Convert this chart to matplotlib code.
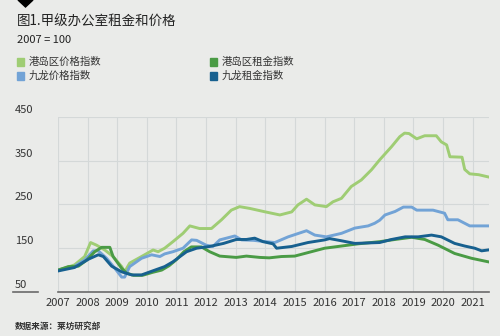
import matplotlib.pyplot as plt
import matplotlib.transforms as mtransforms
from matplotlib.patches import Rectangle, Polygon

plt.rcParams['font.family'] = ['Noto Sans CJK SC', 'DejaVu Sans']

# 港岛区价格指数
hk_price_t = [2007.0, 2007.3, 2007.56, 2007.9, 2008.1, 2008.3, 2008.58, 2008.86, 2009.15, 2009.25,
              2009.42, 2009.82, 2010.21, 2010.38, 2010.6, 2010.88, 2011.22, 2011.45, 2011.78, 2012.18,
              2012.52, 2012.85, 2013.13, 2013.47, 2014.0, 2014.49, 2014.89, 2015.1, 2015.39, 2015.67,
              2016.06, 2016.28, 2016.57, 2016.9, 2017.24, 2017.58, 2017.86, 2018.26, 2018.54, 2018.7,
              2018.85, 2019.11, 2019.38, 2019.77, 2019.94, 2020.12, 2020.23, 2020.64, 2020.73, 2020.9,
              2021.2, 2021.52]
hk_price = [100, 106, 112, 131, 163, 157, 146, 131, 108, 96,
            116, 131, 146, 142, 150, 165, 184, 201, 195, 195,
            215, 237, 245, 241, 233, 226, 233, 249, 262, 249,
            245, 256, 264, 291, 306, 329, 352, 382, 405, 413,
            412, 400, 407, 407, 393, 386, 359, 358, 330, 320,
            318, 313]

# 港岛区租金指数
hk_rent_t = [2007.0, 2007.35, 2007.69, 2007.97, 2008.24, 2008.47, 2008.75, 2008.86, 2009.15, 2009.32,
             2009.55, 2009.85, 2010.2, 2010.5, 2010.75, 2011.0, 2011.25, 2011.5, 2011.84, 2012.12,
             2012.46, 2013.02, 2013.36, 2013.81, 2014.13, 2014.54, 2014.99, 2015.44, 2016.0, 2016.57,
             2017.13, 2017.86, 2018.38, 2018.94, 2019.38, 2019.83, 2020.39, 2020.96, 2021.52]
hk_rent = [100, 108, 109, 123, 142, 152, 152, 131, 104, 93,
           88, 88, 95, 100, 110, 124, 142, 153, 153, 142,
           132, 129, 132, 129, 128, 131, 132, 140, 150, 155,
           160, 165, 170, 175, 170, 157, 138, 127, 119]

# 九龙价格指数
kln_price_t = [2007.0, 2007.56, 2007.9, 2008.19, 2008.36, 2008.64, 2008.92, 2009.15, 2009.25, 2009.42,
               2009.82, 2010.16, 2010.44, 2010.6, 2010.88, 2011.22, 2011.51, 2011.68, 2012.0, 2012.23,
               2012.46, 2012.97, 2013.2, 2013.6, 2014.0, 2014.32, 2014.77, 2015.39, 2015.67, 2016.06,
               2016.57, 2017.02, 2017.47, 2017.69, 2017.86, 2018.04, 2018.38, 2018.66, 2018.94, 2019.11,
               2019.66, 2020.05, 2020.16, 2020.5, 2020.9, 2021.52]
kln_price = [100, 109, 123, 144, 144, 127, 104, 84, 84, 108,
             127, 135, 131, 137, 142, 150, 169, 168, 157, 154,
             169, 178, 169, 168, 165, 163, 176, 190, 180, 176,
             184, 196, 201, 207, 214, 226, 234, 244, 244, 237,
             237, 230, 215, 215, 201, 201]

# 九龙租金指数
kln_rent_t = [2007.0, 2007.56, 2008.03, 2008.36, 2008.53, 2008.81, 2009.15, 2009.49, 2009.82, 2010.27,
              2010.6, 2010.88, 2011.34, 2011.68, 2012.12, 2012.59, 2013.02, 2013.36, 2013.64, 2013.92,
              2014.26, 2014.38, 2014.89, 2015.44, 2016.0, 2016.17, 2016.57, 2017.02, 2017.86, 2018.26,
              2018.72, 2019.16, 2019.61, 2019.94, 2020.39, 2020.73, 2021.07, 2021.3, 2021.52]
kln_rent = [98, 106, 125, 135, 131, 109, 96, 89, 89, 100,
            108, 119, 142, 150, 154, 161, 170, 170, 173, 165,
            160, 150, 154, 163, 169, 172, 167, 161, 163, 170,
            176, 176, 180, 176, 161, 155, 150, 144, 146]

years = list(range(2007, 2022))
yticks = [50, 150, 250, 350, 450]

bg = '#eaebe9'
fig = plt.figure(figsize=(5, 3.36), dpi=100, facecolor=bg)
ax = fig.add_axes([0.116, 0.131, 0.862, 0.521], facecolor=bg)

series = [
    ('港岛区价格指数', hk_price_t, hk_price, '#9fcd74'),
    ('九龙价格指数', kln_price_t, kln_price, '#72a3d6'),
    ('港岛区租金指数', hk_rent_t, hk_rent, '#4a9b45'),
    ('九龙租金指数', kln_rent_t, kln_rent, '#17608f'),
]
for name, t, v, c in series:
    ax.plot(t, v, color=c, lw=2.1, solid_joinstyle='round', zorder=3)

ax.set_xlim(2007, 2021.55)
ax.set_ylim(50, 450)
for s in ['top', 'right', 'left']:
    ax.spines[s].set_visible(False)
ax.spines['bottom'].set_color('#6a6a6a')
ax.spines['bottom'].set_linewidth(1.2)
ax.spines['bottom'].set_zorder(4)

ax.set_xticks(years)
ax.set_xticklabels([str(y) for y in years], fontsize=8, color='#333333')
ax.tick_params(axis='x', length=0, pad=4)
ax.set_yticks(yticks)
ax.set_yticklabels([])
ax.tick_params(axis='y', length=0)
ax.grid(True, color='#d4d8d8', lw=0.8, zorder=0)

# y labels sit above their gridlines, left of the plot
trans = mtransforms.blended_transform_factory(ax.transAxes, ax.transData)
for v in yticks:
    ax.text(-0.1, v + 5, str(v), transform=trans, fontsize=8, color='#333333',
            ha='left', va='bottom')
ax.plot([-0.105, -0.047], [50, 50], transform=trans, color='#6a6a6a', lw=1.2, clip_on=False)

# header
fig.add_artist(Polygon([(18 / 500, 1), (33 / 500, 1), (25.5 / 500, 1 - 7 / 336)],
                       closed=True, color='black', transform=fig.transFigure))
fig.text(17 / 500, 1 - 22 / 336, '图1.甲级办公室租金和价格', fontsize=9.7, color='#222222',
         va='center', ha='left', fontweight='medium')
fig.text(17 / 500, 1 - 40 / 336, '2007 = 100', fontsize=8, color='#222222',
         va='center', ha='left', fontweight='medium')

# legend, two columns
legend_pos = [(17, 62), (17, 76), (210, 62), (210, 76)]
for (name, t, v, c), (px, py) in zip(series, legend_pos):
    fig.add_artist(Rectangle((px / 500, 1 - (py + 3.5) / 336), 7 / 500, 7 / 336,
                             color=c, transform=fig.transFigure))
    fig.text((px + 12) / 500, 1 - py / 336, name, fontsize=7.5, color='#333333',
             va='center', ha='left')

fig.text(15 / 500, 1 - 326 / 336, '数据来源：莱坊研究部', fontsize=6.2, color='#333333',
         va='center', ha='left', fontweight='bold')

fig.savefig('out.png', dpi=100, facecolor=bg)
